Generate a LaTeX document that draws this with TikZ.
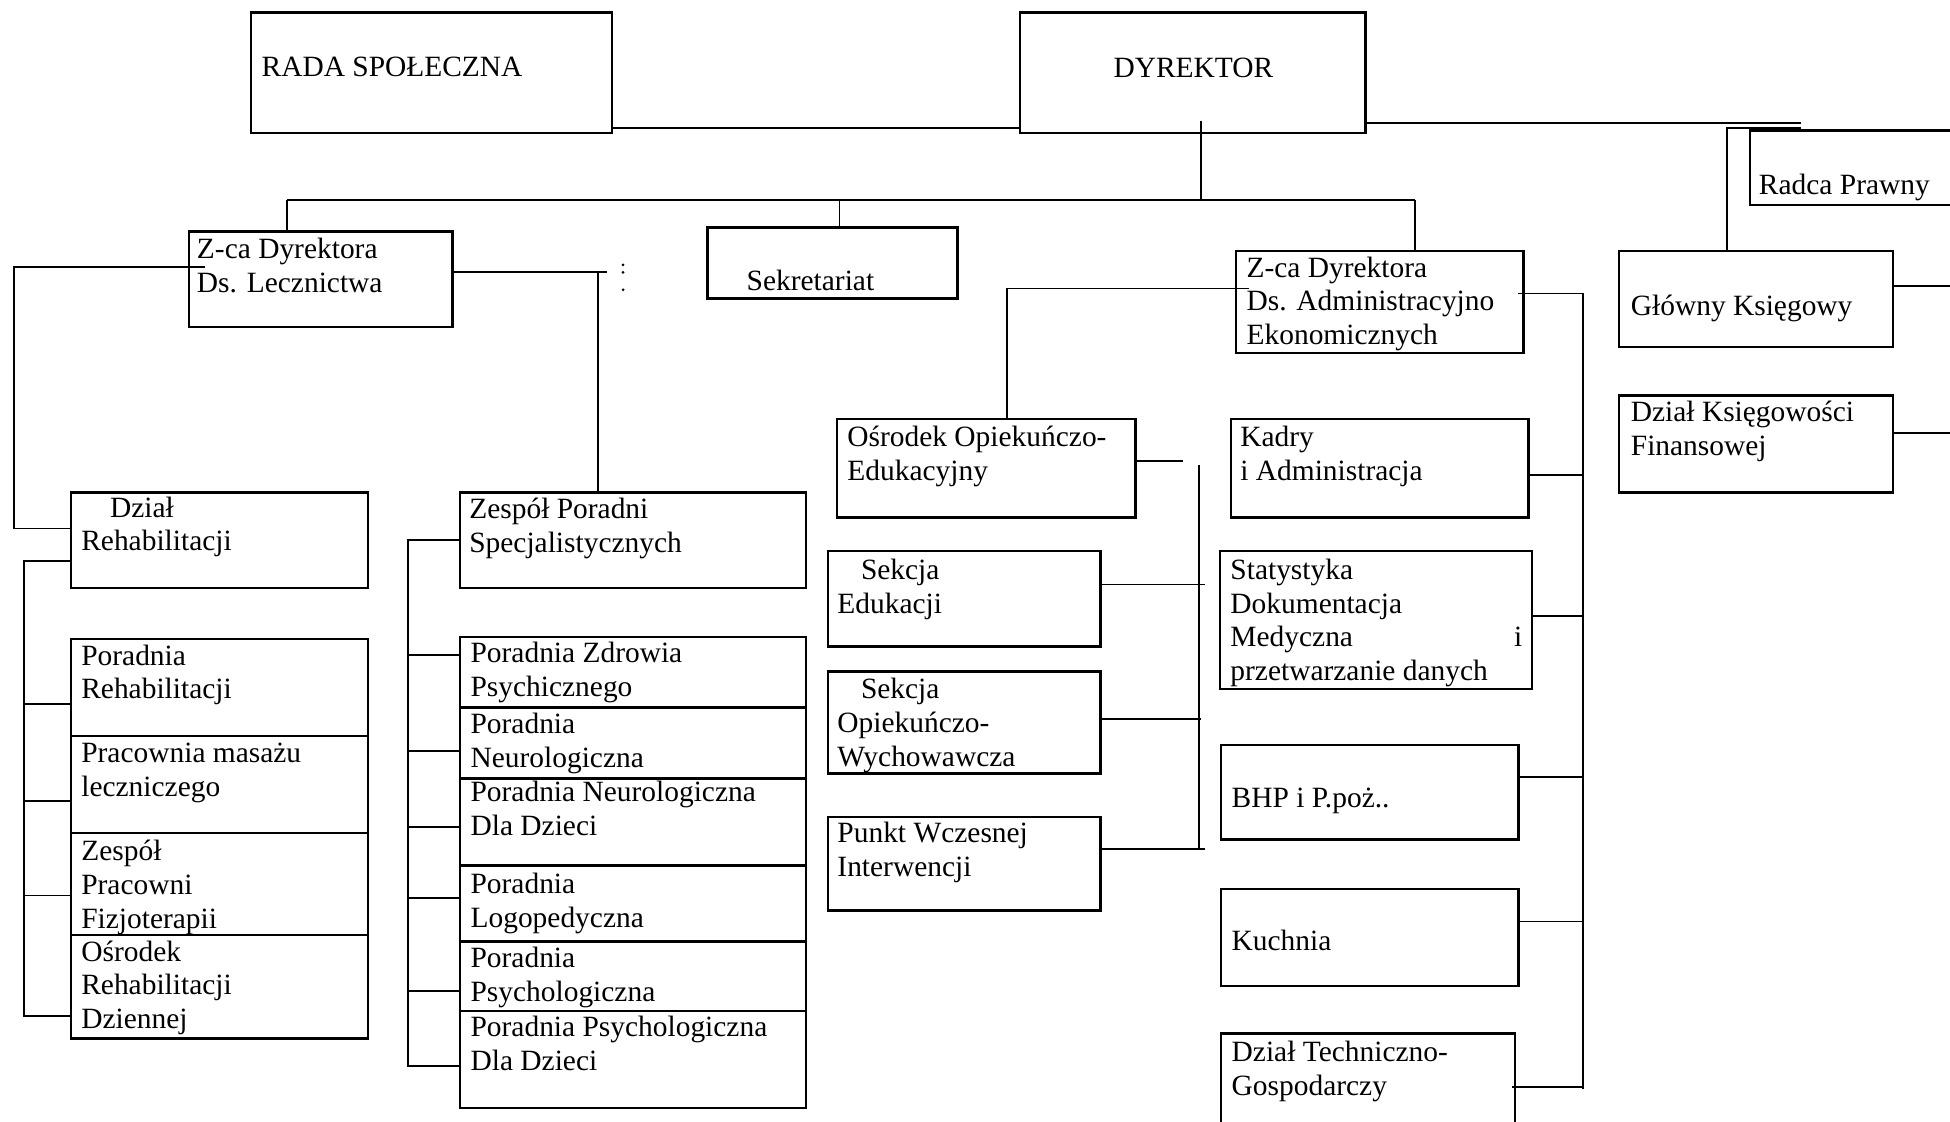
\documentclass[tikz,border=0pt]{standalone}
\usepackage{fontspec}
\setmainfont{Liberation Serif}
\usetikzlibrary{fit}

\begin{document}
\begin{tikzpicture}[x=0.507pt,y=-0.507pt,
    box/.style={draw,line width=1pt,inner sep=0pt},
    txt/.style={anchor=north west,inner sep=0pt,align=left,yshift=-1pt,
      font=\fontsize{12}{13.8}\selectfont,execute at begin node=\strut},
    link/.style={line width=0.75pt}]
            \path[use as bounding box] (0,0) rectangle (1568,902);
            \clip (0,0) rectangle (1568,902);

            % top level
            \node (rada) [box,fit={(202,10) (492,107)}] {};
            \node (dyr) [box,fit={(820,10) (1098,107)}] {};
            \node (radca) [box,fit={(1407,105) (1590,165)}] {};
            \node (rada-t) at (210,40) [txt] {RADA SPOŁECZNA};
            \node (dyr-t) at (895,41) [txt] {DYREKTOR};
            \node (radca-t) at (1414,135) [txt] {Radca Prawny};

            % second level
            \node (zcalecz) [box,fit={(152,186) (364,263)}] {};
            \node (sekr) [box,fit={(569,183) (770,240)}] {};
            \node (zcaadm) [box,fit={(994,202) (1225,284)}] {};
            \node (glowny) [box,fit={(1302,202) (1522,279)}] {};
            \node (dzksieg) [box,fit={(1302,318) (1522,396)}] {};
            \node (zcalecz-t) at (158,189) [txt] {Z-ca Dyrektora\\Ds. Lecznictwa};
            \node (sekr-t) at (600,212) [txt] {Sekretariat};
            \node (zcaadm-t) at (1002,204) [txt] {Z-ca Dyrektora\\Ds. Administracyjno\\Ekonomicznych};
            \node (glowny-t) at (1311,232) [txt] {Główny Księgowy};
            \node (dzksieg-t) at (1311,320) [txt] {Dział Księgowości\\Finansowej};

            % lecznictwo
            \node (dzrehab) [box,fit={(57,396) (296,473)}] {};
            \node (porreh) [box,fit={(57,514) (296,592)}] {};
            \node (pracm) [box,fit={(57,592) (296,670)}] {};
            \node (zesprac) [box,fit={(57,670) (296,752)}] {};
            \node (osrreh) [box,fit={(57,752) (296,835)}] {};
            \node (dzrehab-t) at (65,397) [txt] {\hspace*{11.7pt}Dział\\Rehabilitacji};
            \node (porreh-t) at (65,516) [txt] {Poradnia\\Rehabilitacji};
            \node (pracm-t) at (65,595) [txt] {Pracownia masażu\\leczniczego};
            \node (zesprac-t) at (65,673) [txt] {Zespół\\Pracowni\\Fizjoterapii};
            \node (osrreh-t) at (65,754) [txt] {Ośrodek\\Rehabilitacji\\Dziennej};

            \node (zespor) [box,fit={(370,396) (648,473)}] {};
            \node (pzdr) [box,fit={(370,512) (648,569)}] {};
            \node (pneur) [box,fit={(370,569) (648,626)}] {};
            \node (pneurd) [box,fit={(370,626) (648,696)}] {};
            \node (plogo) [box,fit={(370,696) (648,757)}] {};
            \node (ppsych) [box,fit={(370,757) (648,813)}] {};
            \node (ppsychd) [box,fit={(370,813) (648,891)}] {};
            \node (zespor-t) at (377,398) [txt] {Zespół Poradni\\Specjalistycznych};
            \node (pzdr-t) at (378,514) [txt] {Poradnia Zdrowia\\Psychicznego};
            \node (pneur-t) at (378,571) [txt] {Poradnia\\Neurologiczna};
            \node (pneurd-t) at (378,626) [txt] {Poradnia Neurologiczna\\Dla Dzieci};
            \node (plogo-t) at (378,700) [txt] {Poradnia\\Logopedyczna};
            \node (ppsych-t) at (378,759) [txt] {Poradnia\\Psychologiczna};
            \node (ppsychd-t) at (378,815) [txt] {Poradnia Psychologiczna\\Dla Dzieci};

            % administracja
            \node (osrop) [box,fit={(673,337) (913,416)}] {};
            \node (sedu) [box,fit={(666,443) (885,520)}] {};
            \node (sopiek) [box,fit={(666,540) (885,622)}] {};
            \node (punkt) [box,fit={(666,657) (885,732)}] {};
            \node (osrop-t) at (681,340) [txt] {Ośrodek Opiekuńczo-\\Edukacyjny};
            \node (sedu-t) at (673,447) [txt] {\hspace*{9.6pt}Sekcja\\Edukacji};
            \node (sopiek-t) at (673,543) [txt] {\hspace*{9.6pt}Sekcja\\Opiekuńczo-\\Wychowawcza};
            \node (punkt-t) at (673,659) [txt] {Punkt Wczesnej\\Interwencji};

            \node (kadry) [box,fit={(990,337) (1229,416)}] {};
            \node (stat) [box,fit={(981,443) (1232,554)}] {};
            \node (bhp) [box,fit={(982,599) (1221,675)}] {};
            \node (kuch) [box,fit={(982,715) (1221,793)}] {};
            \node (dztech) [box,fit={(982,831) (1218,915)}] {};
            \node (kadry-t) at (997,340) [txt] {Kadry\\i Administracja};
            \node (stat-t) at (989,447) [txt] {Statystyka\\Dokumentacja\\\makebox[119pt][l]{Medyczna\hfill i}\\przetwarzanie danych};
            \node (bhp-t) at (990,628) [txt] {BHP i P.poż..};
            \node (kuch-t) at (990,743) [txt] {Kuchnia};
            \node (dztech-t) at (990,835) [txt] {Dział Techniczno-\\Gospodarczy};

            % bend points and free ends
            \coordinate (dyr-in) at (966,97);
            \coordinate (bar-l) at (231,161);
            \coordinate (bar-r) at (1138,161);
            \coordinate (j-sekr) at (675,161);
            \coordinate (rt-a) at (1448,99);
            \coordinate (rt-b) at (1448,103);
            \coordinate (gk-j) at (1389,103);
            \coordinate (gk-out) at (1568,230);
            \coordinate (dk-out) at (1568,348);
            \coordinate (l1-in) at (165,215);
            \coordinate (l1-top) at (11,215);
            \coordinate (l1-bot) at (11,425);
            \coordinate (r1-top) at (481,219);
            \coordinate (r1-end) at (488,219);
            \coordinate (l2-top) at (19,451);
            \coordinate (l2-bot) at (19,817);
            \coordinate (l3-top) at (328,434);
            \coordinate (l3-bot) at (328,857);
            \coordinate (a1-in) at (1004,232);
            \coordinate (a1-top) at (810,232);
            \coordinate (o-stub) at (951,371);
            \coordinate (o-top) at (964,374);
            \coordinate (o-bot) at (964,683);
            \coordinate (t1) at (969,470);
            \coordinate (t2) at (966,578);
            \coordinate (t3) at (969,683);
            \coordinate (a2-in) at (1221,236);
            \coordinate (a2-top) at (1273,236);
            \coordinate (a2-bot) at (1273,876);
            \coordinate (t4) at (1216,874);

            \draw[link] (rada.east |- 0,103) -- (dyr.west |- 0,103)
            (dyr-in) -- (dyr-in |- bar-l) (bar-l) -- (bar-r)
            (bar-l) -- (bar-l |- zcalecz.north) (j-sekr) -- (j-sekr |- sekr.north) (bar-r) -- (bar-r |- zcaadm.north)
            (dyr.east |- rt-a) -- (rt-a) (rt-b) -- (gk-j) -- (gk-j |- glowny.north)
            (glowny.east |- gk-out) -- (gk-out) (dzksieg.east |- dk-out) -- (dk-out);

            \draw[link] (l1-in) -- (l1-top) -- (l1-bot) -- (l1-bot -| dzrehab.west)
            (zcalecz.east |- r1-top) -- (r1-end) (r1-top) -- (r1-top |- zespor.north)
            (dzrehab.west |- l2-top) -- (l2-top) -- (l2-bot) -- (l2-bot -| osrreh.west)
            (l2-top |- 0,566) -- (porreh.west |- 0,566) (l2-top |- 0,644) -- (pracm.west |- 0,644)
            (l2-top |- 0,720) -- (zesprac.west |- 0,720)
            (zespor.west |- l3-top) -- (l3-top) -- (l3-bot) -- (l3-bot -| ppsychd.west)
            (l3-top |- 0,527) -- (pzdr.west |- 0,527) (l3-top |- 0,604) -- (pneur.west |- 0,604)
            (l3-top |- 0,665) -- (pneurd.west |- 0,665) (l3-top |- 0,722) -- (plogo.west |- 0,722)
            (l3-top |- 0,797) -- (ppsych.west |- 0,797);

            \draw[link] (a1-in) -- (a1-top) -- (a1-top |- osrop.north)
            (osrop.east |- o-stub) -- (o-stub) (o-top) -- (o-bot)
            (sedu.east |- t1) -- (t1) (sopiek.east |- t2) -- (t2) (punkt.east |- t3) -- (t3)
            (a2-in) -- (a2-top) -- (a2-bot)
            (kadry.east |- 0,382) -- (a2-top |- 0,382) (stat.east |- 0,495) -- (a2-top |- 0,495)
            (bhp.east |- 0,625) -- (a2-top |- 0,625) (kuch.east |- 0,741) -- (a2-top |- 0,741)
            (t4) -- (a2-top |- t4);

            % stray dots
            \fill (501,213) circle (1.2) (501,219) circle (1.2) (501,233) circle (1.2);

        \end{tikzpicture}
\end{document}
